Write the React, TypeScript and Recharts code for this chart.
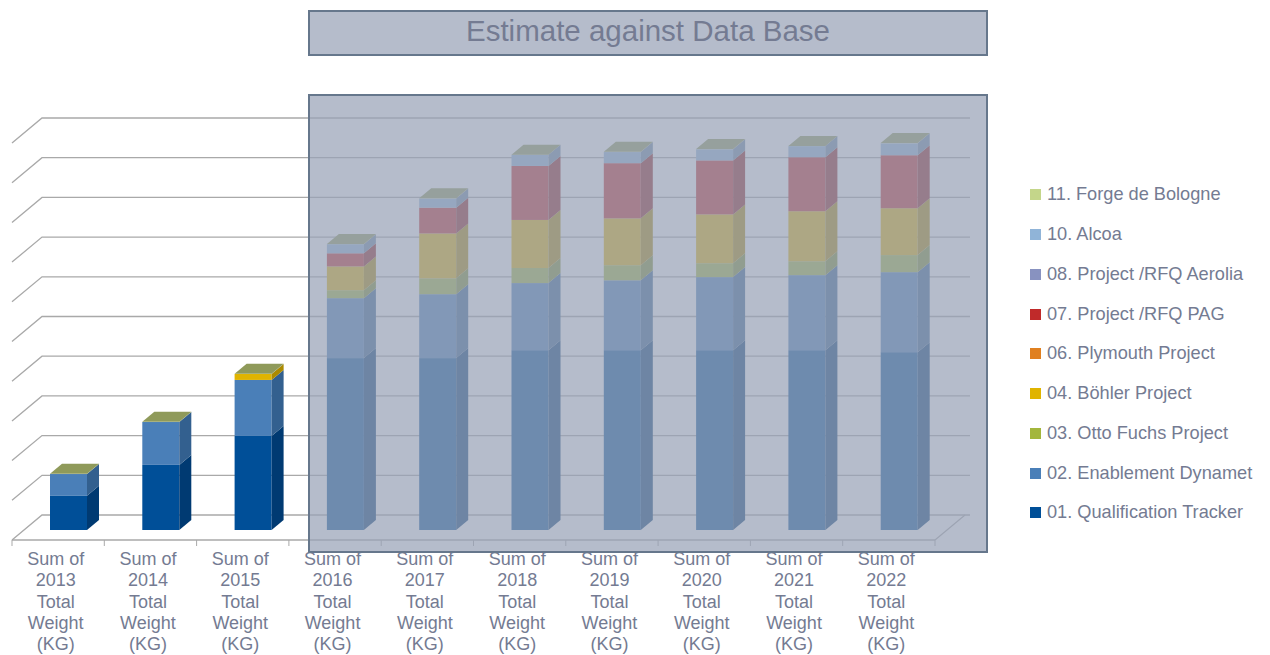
import { BarChart, Bar, XAxis, YAxis, CartesianGrid, Legend } from "recharts";

const years = ["2013", "2014", "2015", "2016", "2017", "2018", "2019", "2020", "2021", "2022"];

// One grid step taken as 1000 KG
const qualificationTracker = [860, 1640, 2370, 4330, 4330, 4530, 4530, 4530, 4530, 4480];
const enablementDynamet = [550, 1080, 1410, 1510, 1610, 1690, 1760, 1840, 1890, 2015];
const ottoFuchs = [0, 0, 0, 200, 400, 380, 380, 350, 350, 430];
const bohler = [0, 0, 150, 600, 1130, 1210, 1180, 1230, 1260, 1180];
const plymouth = [0, 0, 0, 0, 0, 0, 0, 0, 0, 0];
const rfqPag = [0, 0, 0, 330, 650, 1360, 1390, 1360, 1360, 1335];
const rfqAerolia = [0, 0, 0, 0, 0, 0, 0, 0, 0, 0];
const alcoa = [0, 0, 0, 230, 230, 280, 280, 280, 280, 300];
const forgeDeBologne = [5, 5, 5, 5, 5, 5, 5, 5, 5, 5];

const yTicks = [0, 1000, 2000, 3000, 4000, 5000, 6000, 7000, 8000, 9000, 10000];

const series = [
  { key: "01. Qualification Tracker", values: qualificationTracker, color: "#004f98", side: "#003a72" },
  { key: "02. Enablement Dynamet", values: enablementDynamet, color: "#4a7fb8", side: "#33608f" },
  { key: "03. Otto Fuchs Project", values: ottoFuchs, color: "#a3b63c", side: "#7f8f2c" },
  { key: "04. Böhler Project", values: bohler, color: "#e0b400", side: "#ab8a00" },
  { key: "06. Plymouth Project", values: plymouth, color: "#e08020", side: "#ad6218" },
  { key: "07. Project /RFQ PAG", values: rfqPag, color: "#c02a2a", side: "#8f1f1f" },
  { key: "08. Project /RFQ Aerolia", values: rfqAerolia, color: "#8892c0", side: "#666e92" },
  { key: "10. Alcoa", values: alcoa, color: "#90b4d8", side: "#6c88a4" },
  { key: "11. Forge de Bologne", values: forgeDeBologne, color: "#c4d68a", side: "#959f66" },
];

const data = years.map((year, i) => {
  const row: Record<string, string | number> = { year };
  for (const s of series) row[s.key] = s.values[i];
  return row;
});

const WIDTH = 1270;
const HEIGHT = 655;
const PLOT_LEFT = 12;
const PLOT_RIGHT = 935;
const LEGEND_WIDTH = 240;
const BAND = (PLOT_RIGHT - PLOT_LEFT) / years.length;

const TEXT = "#747b92";
const GRID = "#a9a9a9";
const PANEL_BORDER = "#66778c";

// Bars stand part way into the floor, the walls at its far edge
const BAR_SHIFT = 10;
const DEPTH_X = 12;
const DEPTH_Y = 10;
const WALL_X = 30;
const WALL_Y = 25;

function Box3D(props: any) {
  const { x, y, width, height, fill, sideColor, cap } = props;
  if (!height || height <= 0) return null;
  const fx = x + BAR_SHIFT;
  const fy = y - BAR_SHIFT;
  const r = fx + width;
  const b = fy + height;
  return (
    <g>
      <rect x={fx} y={fy} width={width} height={height} fill={fill} />
      <polygon
        points={`${r},${fy} ${r + DEPTH_X},${fy - DEPTH_Y} ${r + DEPTH_X},${b - DEPTH_Y} ${r},${b}`}
        fill={sideColor}
      />
      {cap && (
        <polygon
          points={`${fx},${fy} ${fx + DEPTH_X},${fy - DEPTH_Y} ${r + DEPTH_X},${fy - DEPTH_Y} ${r},${fy}`}
          fill="#8f9a5a"
        />
      )}
    </g>
  );
}

function GridLine(props: any) {
  const { x1, x2, y1, index } = props;
  return (
    <g>
      <polyline
        points={`${x1},${y1} ${x1 + WALL_X},${y1 - WALL_Y} ${x2 + 35},${y1 - WALL_Y}`}
        fill="none"
        stroke={GRID}
        strokeWidth={1.3}
      />
      {Math.abs(y1 - 540) < 1 && index !== undefined && (
        <line x1={x2} y1={y1} x2={x2 + WALL_X} y2={y1 - WALL_Y} stroke={GRID} strokeWidth={1.3} />
      )}
    </g>
  );
}

function YearTick(props: any) {
  const { x, y, payload, index } = props;
  const left = x - BAND / 2;
  const lines = ["Sum of", payload.value, "Total", "Weight", "(KG)"];
  return (
    <g>
      <line x1={left} y1={y} x2={left} y2={y + 6} stroke={GRID} />
      {index === years.length - 1 && <line x1={left + BAND} y1={y} x2={left + BAND} y2={y + 6} stroke={GRID} />}
      <text x={x - 2.5} y={y + 25} textAnchor="middle" fontSize={18} fill={TEXT} fontFamily="Liberation Sans">
        {lines.map((line, i) => (
          <tspan key={i} x={x - 2.5} dy={i === 0 ? 0 : 21.3}>
            {line}
          </tspan>
        ))}
      </text>
    </g>
  );
}

function LegendList({ payload }: any) {
  const items = [...(payload || [])].reverse();
  return (
    <div>
      {items.map((item: any) => (
        <div key={item.value} style={{ height: 39.75, display: "flex", alignItems: "center" }}>
          <span style={{ width: 11, height: 11, background: item.color, marginRight: 6, flex: "none" }} />
          <span style={{ fontSize: 18.2, color: TEXT, whiteSpace: "nowrap" }}>{item.value}</span>
        </div>
      ))}
    </div>
  );
}

export default function App() {
  return (
    <div
      style={{
        position: "absolute",
        left: 0,
        top: 0,
        width: WIDTH,
        height: HEIGHT,
        background: "#fff",
        fontFamily: "Liberation Sans",
        overflow: "hidden",
      }}
    >
      <BarChart
        width={WIDTH}
        height={HEIGHT}
        data={data}
        barSize={37}
        margin={{ top: 143, right: WIDTH - PLOT_RIGHT - LEGEND_WIDTH, bottom: 0, left: PLOT_LEFT }}
      >
        <CartesianGrid vertical={false} horizontal={GridLine} />
        <XAxis
          dataKey="year"
          interval={0}
          height={HEIGHT - 540}
          tickLine={false}
          tickSize={0}
          tickMargin={0}
          axisLine={{ stroke: GRID, strokeWidth: 1.3 }}
          tick={YearTick}
        />
        <YAxis hide domain={[0, 10000]} ticks={yTicks} />
        <Legend
          layout="vertical"
          align="right"
          verticalAlign="top"
          content={LegendList}
          wrapperStyle={{ position: "absolute", left: 1030, top: 175, width: LEGEND_WIDTH }}
        />
        {series.map((s, i) => (
          <Bar
            key={s.key}
            dataKey={s.key}
            stackId="total"
            fill={s.color}
            isAnimationActive={false}
            shape={(p: any) => <Box3D {...p} sideColor={s.side} cap={i === series.length - 1} />}
          />
        ))}
      </BarChart>

      {/* grey panels laid over the chart */}
      <div
        style={{
          position: "absolute",
          left: 308,
          top: 94,
          width: 680,
          height: 459,
          boxSizing: "border-box",
          background: "rgba(152,162,183,0.72)",
          border: `2px solid ${PANEL_BORDER}`,
        }}
      />
      <div
        style={{
          position: "absolute",
          left: 308,
          top: 10,
          width: 680,
          height: 46,
          boxSizing: "border-box",
          background: "#b5bccb",
          border: `2px solid ${PANEL_BORDER}`,
          color: TEXT,
          fontSize: 29.5,
          lineHeight: "38px",
          textAlign: "center",
        }}
      >
        Estimate against Data Base
      </div>
    </div>
  );
}
